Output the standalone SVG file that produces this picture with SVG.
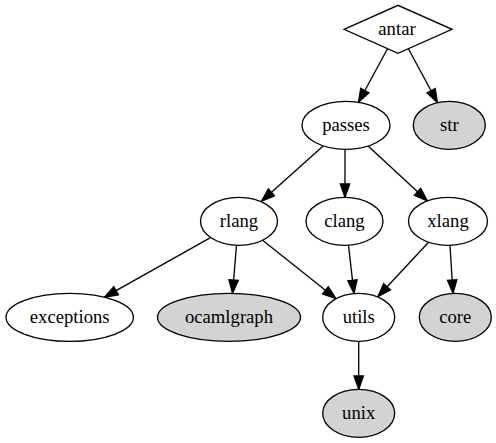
<svg xmlns="http://www.w3.org/2000/svg" width="496" height="443" viewBox="0 0 496 443">
<style>
.n ellipse, .n polygon { fill: #ffffff; stroke: #000000; stroke-width: 1.33; }
.n.g ellipse { fill: #d3d3d3; }
.n text { font-family: 'Liberation Serif', 'Tinos', 'Times New Roman', 'Noto Serif', 'DejaVu Serif', serif; font-size: 18.67px; text-anchor: middle; fill: #000000; }
.e line { stroke: #000000; stroke-width: 1.33; fill: none; marker-end: url(#ah); }
</style>
<defs>
<marker id="ah" markerUnits="userSpaceOnUse" viewBox="0 0 13.3 9.33" refX="13.3" refY="4.67" markerWidth="13.3" markerHeight="9.33" orient="auto" overflow="visible">
<path d="M0,0 L13.3,4.67 L0,9.33 z" fill="#000000" stroke="#000000" stroke-width="1.33"/>
</marker>
</defs>
<rect width="496" height="443" fill="#ffffff"/>
<g id="edges" class="e">
<line x1="387.5" y1="48.8" x2="358.5" y2="102.3"/>
<line x1="408.4" y1="48.8" x2="437.4" y2="102.5"/>
<line x1="323.1" y1="145.9" x2="261.5" y2="201.2"/>
<line x1="345" y1="149.3" x2="345" y2="197.3"/>
<line x1="368.1" y1="146.1" x2="427.3" y2="200.8"/>
<line x1="210.5" y1="237.6" x2="104.5" y2="297.2"/>
<line x1="236.5" y1="245.3" x2="232.5" y2="293.3"/>
<line x1="262.6" y1="240.2" x2="335.8" y2="298.6"/>
<line x1="348.5" y1="245.3" x2="354" y2="293.4"/>
<line x1="428.6" y1="242.2" x2="378" y2="296.5"/>
<line x1="450" y1="245.3" x2="453" y2="293.3"/>
<line x1="358.7" y1="341.3" x2="358.7" y2="389.3"/>
</g>
<g id="antar" class="n">
<polygon points="344,29.3 398,5.3 452,29.3 398,53.3"/>
<text x="397" y="35.3">antar</text>
</g>
<g id="passes" class="n">
<ellipse cx="346" cy="125.3" rx="44" ry="24"/>
<text x="346" y="131.3">passes</text>
</g>
<g id="str" class="n g">
<ellipse cx="449.3" cy="125.3" rx="36" ry="24"/>
<text x="449.3" y="131.3">str</text>
</g>
<g id="rlang" class="n">
<ellipse cx="239" cy="221.3" rx="38.5" ry="24"/>
<text x="239" y="227.3">rlang</text>
</g>
<g id="clang" class="n">
<ellipse cx="344.5" cy="221.3" rx="38.5" ry="24"/>
<text x="344.5" y="227.3">clang</text>
</g>
<g id="xlang" class="n">
<ellipse cx="448" cy="221.3" rx="39.5" ry="24"/>
<text x="448" y="227.3">xlang</text>
</g>
<g id="exceptions" class="n">
<ellipse cx="69.7" cy="317.3" rx="63.7" ry="24"/>
<text x="69.7" y="323.3">exceptions</text>
</g>
<g id="ocamlgraph" class="n g">
<ellipse cx="229" cy="317.3" rx="71.5" ry="24"/>
<text x="229" y="323.3">ocamlgraph</text>
</g>
<g id="utils" class="n">
<ellipse cx="358.7" cy="317.3" rx="36" ry="24"/>
<text x="358.7" y="323.3">utils</text>
</g>
<g id="core" class="n g">
<ellipse cx="455.3" cy="317.3" rx="36" ry="24"/>
<text x="455.3" y="323.3">core</text>
</g>
<g id="unix" class="n g">
<ellipse cx="358.7" cy="413.3" rx="36" ry="24"/>
<text x="358.7" y="419.3">unix</text>
</g>
</svg>
